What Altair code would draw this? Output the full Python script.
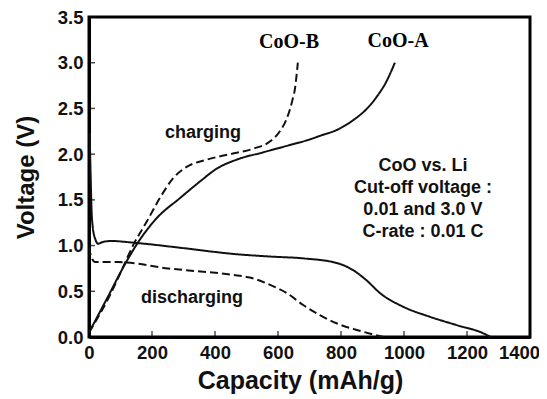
import altair as alt
import pandas as pd

# CoO-A charging (solid)
a_chg_cap = [0, 60, 110, 151, 215, 289, 352, 405, 469, 553, 638, 700, 733, 790, 838, 880, 914, 945, 971]
a_chg_v = [0.05, 0.44, 0.77, 1.01, 1.30, 1.52, 1.70, 1.84, 1.94, 2.02, 2.10, 2.16, 2.20, 2.27, 2.37, 2.49, 2.63, 2.80, 3.00]
# CoO-B charging (dashed)
b_chg_cap = [0, 64, 105, 141, 183, 225, 268, 310, 374, 448, 522, 575, 606, 628, 645, 654, 663]
b_chg_v = [0.05, 0.44, 0.74, 1.01, 1.26, 1.52, 1.74, 1.86, 1.94, 2.00, 2.06, 2.14, 2.25, 2.39, 2.58, 2.72, 3.00]
# CoO-A discharging (solid)
a_dis_cap = [2, 5, 8, 12, 20, 29, 44, 70, 146, 305, 454, 575, 680, 786, 839, 881, 924, 998, 1083, 1167, 1252, 1275]
a_dis_v = [2.23, 1.80, 1.40, 1.20, 1.07, 1.02, 1.04, 1.05, 1.03, 0.97, 0.91, 0.88, 0.86, 0.81, 0.73, 0.62, 0.48, 0.33, 0.22, 0.13, 0.04, 0.00]
# CoO-B discharging (dashed)
b_dis_cap = [0, 5, 19, 92, 251, 454, 511, 575, 628, 680, 733, 786, 850, 900, 935]
b_dis_v = [0.98, 0.90, 0.82, 0.82, 0.75, 0.68, 0.65, 0.57, 0.48, 0.35, 0.24, 0.15, 0.077, 0.03, 0.00]

x_ticks = [0, 200, 400, 600, 800, 1000, 1200, 1400]
y_ticks = [0.0, 0.5, 1.0, 1.5, 2.0, 2.5, 3.0, 3.5]

labels = ["CoO-B", "CoO-A"]
label_cap = [635, 981]
label_v = [3.23, 3.24]

notes = ["charging", "discharging", "CoO vs. Li", "Cut-off voltage :", "0.01 and 3.0 V", "C-rate : 0.01 C"]
note_cap = [362, 327, 1060, 1060, 1060, 1060]
note_v = [2.23, 0.43, 1.87, 1.63, 1.39, 1.15]

rows = []
for name, caps, vs, dash in [
    ("A charge", a_chg_cap, a_chg_v, "solid"),
    ("B charge", b_chg_cap, b_chg_v, "dashed"),
    ("A discharge", a_dis_cap, a_dis_v, "solid"),
    ("B discharge", b_dis_cap, b_dis_v, "dashed"),
]:
    for i, (c, v) in enumerate(zip(caps, vs)):
        rows.append({"cap": c, "v": v, "series": name, "style": dash, "i": i})
df = pd.DataFrame(rows)

W, H = 441, 320
FONT = "Liberation Sans"

xs = alt.Scale(domain=[0, 1400], nice=False)
ys = alt.Scale(domain=[0, 3.5], nice=False)

lines = alt.Chart(df).mark_line(strokeWidth=2, color="#111", interpolate="monotone").encode(
    x=alt.X("cap:Q", scale=xs, title="Capacity (mAh/g)",
            axis=alt.Axis(values=x_ticks, format="d", titleX=211, titleFontSize=25, titlePadding=7,
                          labelFlush=False,
                          labelOffset={"condition": {"test": "datum.value == 1400", "value": -11}, "value": 0})),
    y=alt.Y("v:Q", scale=ys, title="Voltage (V)",
            axis=alt.Axis(values=y_ticks, format=".1f", titleFontSize=24, titlePadding=19)),
    detail="series:N",
    order="i:Q",
    strokeDash=alt.StrokeDash("style:N", scale=alt.Scale(domain=["solid", "dashed"], range=[[1, 0], [8, 4]]), legend=None),
)

xt = alt.Chart(pd.DataFrame({"t": x_ticks[1:-1]})).mark_tick(color="black", size=6, thickness=1.5, orient="vertical").encode(
    x=alt.X("t:Q", scale=xs), y=alt.value(H - 3))
yt = alt.Chart(pd.DataFrame({"t": y_ticks[1:-1]})).mark_tick(color="black", size=6, thickness=1.5, orient="horizontal").encode(
    y=alt.Y("t:Q", scale=ys), x=alt.value(3))

lab = alt.Chart(pd.DataFrame({"cap": label_cap, "v": label_v, "t": labels})).mark_text(
    font="Liberation Serif", fontWeight="bold", fontSize=20, color="black", baseline="middle", align="center"
).encode(x=alt.X("cap:Q", scale=xs), y=alt.Y("v:Q", scale=ys), text="t:N")

nt = alt.Chart(pd.DataFrame({"cap": note_cap, "v": note_v, "t": notes})).mark_text(
    font=FONT, fontWeight="bold", fontSize=18, color="#111", baseline="middle", align="center"
).encode(x=alt.X("cap:Q", scale=xs), y=alt.Y("v:Q", scale=ys), text="t:N")

chart = alt.layer(lines, xt, yt, lab, nt).properties(
    width=W, height=H,
    autosize=alt.AutoSizeParams(type="none"),
    padding={"left": 81, "top": 9, "right": 9, "bottom": 62},
    background="white",
).configure_view(stroke="black", strokeWidth=3).configure_axis(
    labelFont=FONT, labelFontWeight="bold", labelFontSize=18.5, labelColor="#111",
    titleFont=FONT, titleFontWeight="bold", titleColor="#111",
    ticks=False, grid=False, domainColor="black", domainWidth=3, labelPadding=6,
)

chart.save("out.html", embed_options={"renderer": "svg", "actions": False})
